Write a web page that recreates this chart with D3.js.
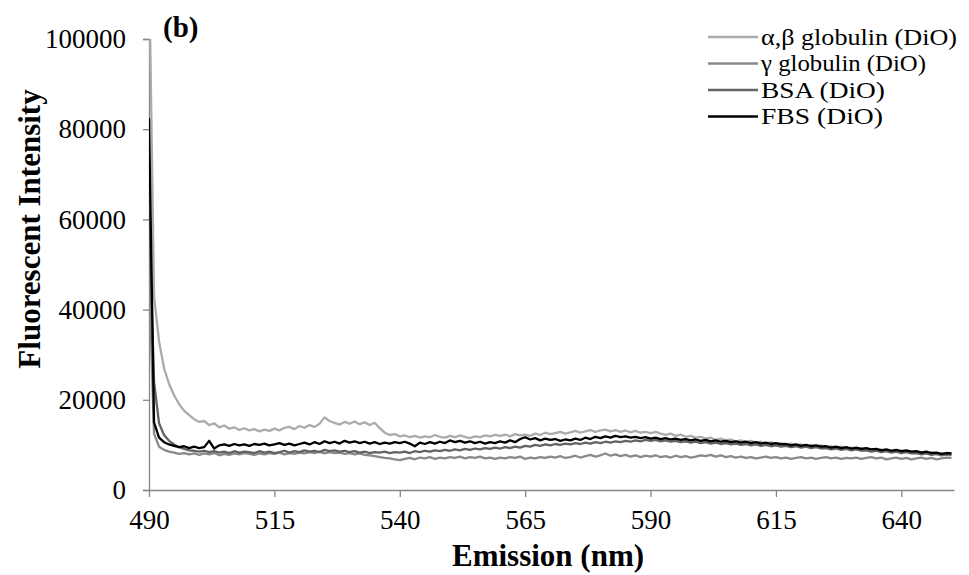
<!DOCTYPE html>
<html>
<head>
<meta charset="utf-8">
<script src="https://cdn.jsdelivr.net/npm/d3@7"></script>
<style>
  body { margin: 0; background: #fff; }
  svg { display: block; font-family: "Liberation Serif", "Times New Roman", serif; }
</style>
</head>
<body>
<svg id="chart" width="969" height="575"></svg>
<script>
// Emission wavelengths, 1 nm steps (490 - 650)
const wavelengths = d3.range(490, 651, 1);

// Fluorescent intensity per series
const abGlobulin = [
  118000, 43000, 33000, 27000, 23500, 21000, 19000, 17600, 16600, 15700,
  15100, 15300, 14400, 14800, 13900, 14300, 13600, 13900, 13300, 13700,
  13200, 13500, 13000, 13400, 13100, 13600, 13200, 13800, 14000, 13500,
  14200, 13800, 14400, 14000, 14700, 16100, 15300, 14900, 14500, 15100,
  14700, 15200, 14600, 15000, 14400, 14900, 13700, 12700, 12200, 12400,
  11900, 12100, 11700, 12000, 11600, 11900, 11700, 12200, 11800, 11600,
  12000, 11700, 12100, 11800, 11500, 11900, 11700, 12100, 11900, 12200,
  12000, 12300, 11900, 12400, 12100, 12300, 12000, 12500, 12200, 12700,
  12400, 12600, 12900, 12500, 12800, 13100, 12700, 13000, 13300, 12900,
  13200, 13400, 13000, 13300, 12900, 13200, 12800, 13100, 12700, 12900,
  12600, 12900, 12500, 12200, 12500, 12000, 12300, 11800, 12000, 11600,
  11800, 11400, 11600, 11100, 11400, 11000, 11200, 10800, 11000, 10700,
  10900, 10500, 10700, 10300, 10600, 10200, 10400, 10100, 10300, 9900,
  10100, 9800, 10000, 9600, 9900, 9500, 9700, 9400, 9600, 9200,
  9400, 9100, 9300, 8900, 9100, 8800, 9000, 8600, 8800, 8500,
  8700, 8400, 8600, 8200, 8400, 8100, 8300, 7900, 8100, 7800,
  8000
];

const gGlobulin = [
  48000, 12500, 9600, 8900, 8500, 8300, 8000, 8200, 7900, 8100,
  7800, 8100, 7900, 8200, 7700, 8000, 7800, 8100, 7900, 8200,
  8000, 7800, 8100, 7900, 8200, 8000, 8300, 7900, 8200, 8000,
  8300, 8100, 8400, 8200, 8500, 8100, 8400, 8200, 8300, 8000,
  8200, 7900, 8100, 7800, 7700, 7500, 7300, 7100, 7000, 6800,
  6600, 6900, 7100, 6800, 7200, 7000, 7300, 6900, 7200, 7000,
  7300, 7100, 7400, 7000, 7300, 7100, 7400, 7000, 7200, 6900,
  7200, 7000, 7300, 7100, 7400, 6900, 7200, 7000, 7300, 7100,
  7400, 7200, 7500, 7100, 7300, 7600, 7200, 7500, 7800, 7400,
  7700, 8100, 7600, 7900, 7500, 7800, 7400, 7700, 7300, 7600,
  7400, 7700, 7300, 7500, 7200, 7600, 7300, 7500, 7200, 7400,
  7700, 7500, 7800, 7400, 7700, 7300, 7500, 7200, 7400, 7100,
  7300, 7000, 7200, 7400, 7100, 7300, 7000, 7200, 6900, 7100,
  7300, 7000, 7200, 6900, 7100, 7300, 7000, 7200, 6900, 7100,
  7000, 7200, 6900, 7100, 7300, 7000, 7200, 6800, 7000, 7200,
  6900, 7100, 6800, 7000, 7200, 6900, 7100, 6800, 7000, 7200,
  7100
];

const bsa = [
  62000, 24000, 14800, 12200, 10900, 10100, 9500, 9100, 8800, 8700,
  8500, 8700, 8400, 8600, 8300, 8500, 8200, 8600, 8300, 8500,
  8400, 8200, 8600, 8300, 8500, 8200, 8400, 8700, 8300, 8600,
  8400, 8800, 8500, 8700, 8400, 8900, 8600, 8800, 8500, 8700,
  8400, 8600, 8300, 8500, 8200, 8400, 8300, 8500, 8200, 8400,
  8300, 8500, 8200, 8600, 8400, 8700, 8500, 8800, 8600, 8900,
  8700, 9000, 8800, 9100, 8900, 9200, 9000, 9300, 9100, 9400,
  9200, 9500, 9300, 9600, 9400, 9800, 9600, 10000, 9800, 10100,
  9900, 10200, 10000, 10300, 10100, 10400, 10200, 10500, 10300, 10600,
  10400, 10700, 10500, 10800, 10600, 10900, 10700, 11000, 10800, 11100,
  10900, 11100, 10800, 11000, 10700, 10900, 10600, 10800, 10500, 10700,
  10400, 10600, 10300, 10500, 10200, 10400, 10100, 10300, 10000, 10200,
  9900, 10100, 9800, 10000, 9700, 9900, 9600, 9800, 9500, 9700,
  9400, 9600, 9300, 9500, 9200, 9300, 9000, 9200, 8900, 9100,
  8800, 9000, 8700, 8800, 8500, 8700, 8400, 8600, 8300, 8500,
  8200, 8400, 8100, 8200, 7900, 8100, 7800, 8000, 7700, 7900,
  7800
];

const fbs = [
  82500, 15000, 11600, 10600, 10100, 9800, 9500, 9700, 9300, 9600,
  9300, 9500, 10900, 9200, 9900, 10100, 9800, 10200, 9900, 10100,
  9800, 10200, 10000, 10300, 9900, 10100, 10400, 10000, 10300, 9900,
  10200, 10500, 10100, 10600, 10200, 10800, 10400, 10700, 10300, 10900,
  10500, 10800, 10400, 10700, 10300, 10600, 10200, 10500, 10300, 10600,
  10400, 10700, 10300, 9700, 10500, 10200, 10600, 10300, 10700, 10400,
  11000, 10600, 10900, 10500, 10800, 10400, 10700, 10300, 10600, 10400,
  10800, 10500, 11000, 10600, 11300, 11700, 11200, 11500, 11000, 11400,
  11100, 11300, 10900, 11200, 11000, 11400, 11100, 11600, 11300, 11800,
  11500, 11900, 11600, 12000, 11700, 11900, 11600, 11800, 11500, 11700,
  11400, 11600, 11300, 11500, 11200, 11400, 11100, 11300, 11000, 11200,
  10900, 11100, 10800, 11000, 10700, 10900, 10600, 10800, 10500, 10700,
  10400, 10600, 10300, 10500, 10200, 10400, 10100, 10200, 9900, 10100,
  9800, 10000, 9700, 9900, 9600, 9700, 9400, 9600, 9300, 9500,
  9200, 9400, 9100, 9300, 9000, 9100, 8800, 9000, 8700, 8900,
  8600, 8800, 8500, 8600, 8300, 8500, 8200, 8300, 8000, 8200,
  8100
];

const seriesNames = ['α,β globulin (DiO)', 'γ globulin (DiO)', 'BSA (DiO)', 'FBS (DiO)'];
const seriesValues = [abGlobulin, gGlobulin, bsa, fbs];
const seriesColors = ['#ababab', '#8a8a8a', '#636363', '#000000'];

const xTicks = [490, 515, 540, 565, 590, 615, 640];
const yTicks = [0, 20000, 40000, 60000, 80000, 100000];

const svg = d3.select('#chart');
const plot = { left: 149, right: 954, top: 39, bottom: 490 };

const x = d3.scaleLinear().domain([490, 650.5]).range([plot.left, plot.right]);
const y = d3.scaleLinear().domain([0, 100000]).range([plot.bottom, plot.top]);

const axisColor = '#868686';

// clip for lines that run past the y max
svg.append('defs').append('clipPath').attr('id', 'plot-clip')
  .append('rect')
  .attr('x', plot.left).attr('y', plot.top)
  .attr('width', plot.right - plot.left + 2).attr('height', plot.bottom - plot.top);

// y axis
const yAxis = svg.append('g')
  .attr('transform', `translate(${plot.left},0)`)
  .call(d3.axisLeft(y).tickValues(yTicks).tickSize(6).tickPadding(17).tickFormat(d3.format('d')));
yAxis.select('.domain').attr('stroke', axisColor).attr('stroke-width', 1.3);
yAxis.selectAll('.tick line').attr('stroke', axisColor).attr('stroke-width', 1.3);
yAxis.selectAll('.tick text')
  .attr('font-family', '"Liberation Serif", serif')
  .attr('font-size', 27)
  .attr('fill', '#000');

// x axis
const xAxis = svg.append('g')
  .attr('transform', `translate(0,${plot.bottom})`)
  .call(d3.axisBottom(x).tickValues(xTicks).tickSize(7).tickPadding(13).tickSizeOuter(0));
xAxis.select('.domain').attr('stroke', axisColor).attr('stroke-width', 1.3);
xAxis.selectAll('.tick line').attr('stroke', axisColor).attr('stroke-width', 1.3);
xAxis.selectAll('.tick text')
  .attr('font-family', '"Liberation Serif", serif')
  .attr('font-size', 27)
  .attr('fill', '#000');

// series lines
const line = d3.line()
  .x((d, i) => x(wavelengths[i]))
  .y(d => y(d));

svg.append('g')
  .attr('clip-path', 'url(#plot-clip)')
  .selectAll('path.series')
  .data(seriesValues)
  .join('path')
  .attr('class', 'series')
  .attr('fill', 'none')
  .attr('stroke', (d, i) => seriesColors[i])
  .attr('stroke-width', 2.3)
  .attr('stroke-linejoin', 'round')
  .attr('d', line);

// axis titles
svg.append('text')
  .attr('x', 548).attr('y', 566)
  .attr('text-anchor', 'middle')
  .attr('font-size', 31).attr('font-weight', 'bold')
  .text('Emission (nm)');

svg.append('text')
  .attr('transform', 'translate(40,229) rotate(-90)')
  .attr('text-anchor', 'middle')
  .attr('font-size', 31).attr('font-weight', 'bold')
  .text('Fluorescent Intensity');

// panel label
svg.append('text')
  .attr('x', 163).attr('y', 37)
  .attr('font-size', 29).attr('font-weight', 'bold')
  .text('(b)');

// legend (rows tight like the original; glyphs stretched to the original widths)
const legend = svg.append('g').attr('class', 'legend');
const legendRows = [37, 63.5, 90, 116.5];
const legendWidths = [196, 165, 124, 122];
seriesNames.forEach((name, i) => {
  const row = legend.append('g').attr('transform', `translate(0,${legendRows[i]})`);
  row.append('line')
    .attr('x1', 708).attr('x2', 758)
    .attr('stroke', seriesColors[i]).attr('stroke-width', 2.3);
  row.append('text')
    .attr('x', 761).attr('y', 7.5)
    .attr('font-size', 23.5)
    .attr('textLength', legendWidths[i])
    .attr('lengthAdjust', 'spacingAndGlyphs')
    .text(name);
});
</script>
</body>
</html>
